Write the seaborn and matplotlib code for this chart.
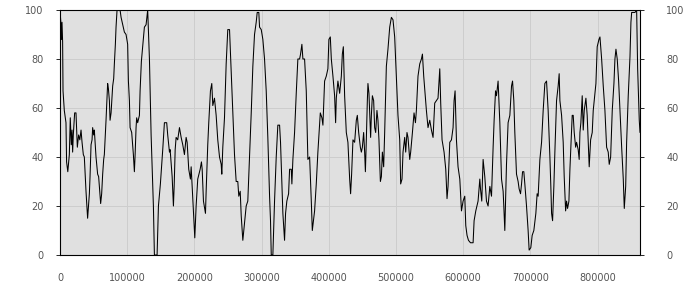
import matplotlib
matplotlib.use("Agg")
import matplotlib.pyplot as plt
import seaborn as sns
import numpy as np
import pandas as pd

# x positions in thousands, y values 0-100
x_k = [0, 1.5, 1.9, 3.0, 3.9, 4.5, 6.4, 8.9, 9.8, 11.6, 13.9, 15.3, 16.8, 17.9, 18.8, 19.8,
       21.8, 23.8, 25.8, 27.7, 29.5, 31.3, 32.8, 34.7, 36.2, 38.7, 41.1, 43.7, 44.7, 46.2,
       47.7, 48.6, 50.1, 51.1, 53.6, 56.0, 57.5, 58.6, 60.5, 62.0, 63.5, 65.0, 66.0, 67.5,
       68.5, 69.4, 70.9, 72.0, 73.5, 74.5, 76.0, 78.4, 79.9, 80.9, 82.4, 83.4, 84.9, 89.4,
       90.9, 93.3, 95.8, 98.3, 100.7, 101.8, 103.3, 104.3, 106.7, 109.2, 110.7, 111.8,
       113.2, 114.1, 115.6, 118.2, 119.2, 121.1, 125.6, 128.1, 130.5, 133.1, 135.6, 139.0,
       140.5, 144.5, 146.5, 149.4, 152.9, 155.4, 158.8, 160.3, 162.9, 163.9, 166.9, 168.8,
       169.9, 171.4, 172.8, 175.2, 177.8, 180.3, 182.7, 185.2, 187.7, 189.2, 191.6, 194.1,
       195.2, 198.6, 200.6, 202.6, 205.0, 208.6, 210.5, 211.6, 213.5, 216.5, 217.5, 219.9,
       221.4, 223.9, 225.9, 227.4, 229.9, 232.4, 234.8, 237.4, 239.9, 240.8, 242.3, 244.8,
       247.3, 249.7, 252.3, 254.8, 257.2, 259.7, 262.2, 264.6, 266.1, 268.2, 269.7, 272.1,
       274.6, 277.1, 279.5, 282.1, 284.6, 287.0, 289.5, 292.0, 293.5, 295.9, 297.0, 299.5,
       301.9, 304.4, 306.9, 309.3, 311.9, 313.3, 314.4, 316.8, 319.3, 321.8, 324.2, 326.8,
       328.2, 330.2, 331.7, 334.2, 335.7, 337.6, 340.2, 341.7, 344.2, 345.1, 346.6, 349.1,
       351.6, 354.0, 356.6, 358.0, 360.0, 361.5, 364.0, 366.5, 368.9, 371.5, 374.0, 375.5,
       378.9, 381.4, 383.8, 387.4, 389.8, 391.3, 393.8, 396.3, 398.7, 400.2, 402.3, 403.8,
       406.2, 408.7, 410.2, 411.2, 413.6, 416.2, 418.7, 420.2, 421.7, 423.6, 426.1, 428.5,
       431.1, 432.5, 434.0, 436.0, 438.5, 441.0, 442.5, 444.5, 447.0, 448.5, 450.0, 451.9,
       453.4, 454.5, 455.9, 457.4, 458.3, 459.8, 460.9, 462.3, 463.4, 464.9, 466.8, 468.3,
       469.8, 471.7, 473.2, 474.7, 476.8, 478.3, 479.8, 481.7, 483.2, 485.7, 488.1, 490.7,
       493.2, 495.6, 498.1, 500.6, 503.0, 505.6, 507.0, 509.0, 510.5, 513.0, 514.5, 516.4,
       517.9, 520.5, 521.9, 524.5, 526.9, 529.0, 530.4, 532.8, 535.4, 537.9, 539.4, 541.3,
       545.3, 547.7, 550.3, 552.8, 555.2, 557.7, 560.2, 562.6, 564.1, 565.2, 566.6, 568.6,
       571.6, 574.1, 576.0, 577.5, 580.1, 582.6, 585.0, 586.5, 588.0, 590.0, 592.4, 595.0,
       597.5, 599.9, 602.4, 603.9, 605.8, 607.9, 610.9, 614.8, 616.3, 618.8, 622.2, 624.8,
       625.8, 627.7, 629.7, 632.2, 634.7, 637.1, 639.7, 642.2, 644.6, 646.1, 648.2, 649.6,
       652.0, 654.6, 657.1, 659.5, 660.5, 662.0, 664.5, 666.9, 669.5, 672.0, 673.5, 675.4,
       676.9, 679.4, 681.8, 683.3, 685.4, 686.9, 688.4, 690.3, 691.8, 694.3, 696.7, 698.2,
       700.7, 702.7, 705.2, 708.2, 710.1, 711.6, 714.2, 716.7, 719.1, 721.6, 724.1, 726.5,
       729.1, 730.5, 731.6, 733.1, 735.0, 736.5, 739.0, 741.4, 742.9, 744.0, 746.5, 748.9,
       750.4, 752.5, 753.9, 755.4, 757.4, 758.9, 760.3, 762.3, 763.8, 765.3, 767.4, 768.8,
       771.2, 772.7, 773.8, 775.2, 777.2, 778.7, 780.2, 782.7, 784.6, 786.1, 787.6, 789.7,
       792.1, 793.6, 796.1, 797.6, 799.5, 802.1, 803.6, 806.1, 808.5, 811.0, 813.5, 815.9,
       817.4, 819.5, 821.9, 824.4, 825.9, 827.4, 829.3, 831.4, 833.4, 835.9, 838.3, 839.8,
       841.9, 843.3, 845.7, 848.3, 849.7, 850.8, 855.7, 858.2, 859.7, 862.1, 863.2]

values = [100, 94, 88, 95, 87, 67, 59, 54, 38, 34, 41, 56, 45, 51, 42, 49,
          58, 58, 44, 49, 47, 51, 46, 41, 40, 26, 15, 25, 32, 45,
          47, 52, 49, 51, 40, 33, 32, 28, 21, 25, 33, 39, 41, 49,
          55, 61, 70, 68, 63, 55, 58, 69, 72, 78, 86, 93, 100, 100,
          97, 94, 91, 90, 86, 71, 63, 52, 50, 41, 34, 41,
          52, 56, 54, 57, 67, 79, 93, 94, 100, 80, 49, 20,
          0, 0, 20, 29, 43, 54, 54, 49, 42, 43, 32, 20,
          28, 43, 48, 47, 52, 48, 45, 41, 48, 46, 35, 31,
          36, 18, 7, 20, 31, 35, 38, 35, 22, 17, 26, 45,
          54, 67, 70, 61, 64, 57, 47, 40, 37, 33, 44, 56,
          78, 92, 92, 75, 59, 41, 30, 30, 24, 26, 16, 6,
          13, 20, 22, 40, 58, 77, 90, 95, 99, 99, 93, 92,
          88, 80, 67, 48, 24, 14, 0, 0, 22, 40, 53, 53,
          46, 29, 17, 6, 17, 22, 25, 35, 35, 29, 39, 50,
          66, 80, 80, 82, 86, 80, 80, 67, 39, 40, 22, 10,
          18, 29, 42, 58, 56, 53, 71, 73, 76, 88, 89, 80,
          73, 65, 54, 64, 71, 66, 73, 82, 85, 65, 50, 46,
          31, 25, 33, 47, 46, 55, 57, 50, 44, 42, 44, 50,
          42, 34, 47, 63, 70, 66, 58, 48, 57, 65, 63, 52,
          50, 59, 55, 47, 30, 32, 42, 36, 50, 77, 84, 93,
          97, 96, 89, 73, 57, 47, 29, 31, 42, 48, 42, 50,
          48, 39, 42, 50, 58, 54, 59, 73, 78, 80, 82, 73,
          59, 52, 55, 51, 48, 62, 63, 64, 71, 76, 62, 47,
          42, 35, 23, 28, 46, 47, 52, 63, 67, 47, 36, 31,
          18, 22, 24, 12, 8, 6, 5, 5, 14, 18, 22, 31,
          27, 22, 39, 32, 22, 20, 28, 24, 44, 55, 67, 65,
          71, 54, 31, 26, 20, 10, 37, 54, 57, 69, 71, 63,
          50, 33, 30, 27, 25, 29, 34, 34, 29, 20, 10, 2,
          3, 8, 10, 17, 25, 24, 39, 46, 59, 70, 71, 59,
          40, 28, 17, 14, 28, 42, 63, 69, 74, 63, 57, 46,
          32, 18, 22, 19, 22, 35, 44, 57, 57, 50, 44, 46,
          43, 39, 50, 54, 65, 51, 59, 64, 57, 47, 36, 47,
          50, 59, 66, 70, 85, 88, 89, 80, 69, 59, 44, 42,
          37, 40, 59, 70, 80, 84, 80, 71, 59, 44, 31, 19,
          28, 46, 65, 81, 95, 99, 99, 100, 76, 55, 50]

x_ticks = [0, 100000, 200000, 300000, 400000, 500000, 600000, 700000, 800000]
y_ticks = [0, 20, 40, 60, 80, 100]

df = pd.DataFrame({"x": np.array(x_k) * 1000.0, "y": values})

sns.set_style("white")
plt.rcParams['font.family'] = ['DejaVu Sans']

fig = plt.figure(figsize=(7, 3), dpi=100)
ax = fig.add_axes([60 / 700, 45 / 300, 580 / 700, 245 / 300])
ax.set_facecolor("#e0e0e0")

sns.lineplot(data=df, x="x", y="y", ax=ax, color="black", linewidth=0.75,
             estimator=None, sort=False, antialiased=True)

ax.set_xlim(0, df["x"].max())
ax.set_ylim(0, 100)
ax.set_xticks(x_ticks)
ax.set_xticklabels([str(t) for t in x_ticks])
ax.set_yticks(y_ticks)
ax.set_yticklabels([str(t) for t in y_ticks])
ax.grid(True, color="#cdcdcd", linewidth=0.7)
ax.set_axisbelow(True)
ax.set_xlabel("")
ax.set_ylabel("")
for s in ax.spines.values():
    s.set_color("black")
    s.set_linewidth(0.8)
ax.tick_params(axis="x", direction="out", length=3, width=0.7, pad=10,
               labelsize=7, labelcolor="#555555", colors="black")
ax.tick_params(axis="x", labelcolor="#555555")
ax.tick_params(axis="y", direction="out", length=3, width=0.7, pad=9,
               labelsize=7, labelcolor="#555555")

ax2 = ax.twinx()
ax2.set_ylim(0, 100)
ax2.set_yticks(y_ticks)
ax2.set_yticklabels([str(t) for t in y_ticks])
ax2.tick_params(axis="y", direction="out", length=3, width=0.7, pad=16,
                labelsize=7, labelcolor="#555555")
for s in ax2.spines.values():
    s.set_visible(False)

fig.savefig("out.png", dpi=100, facecolor="white")
